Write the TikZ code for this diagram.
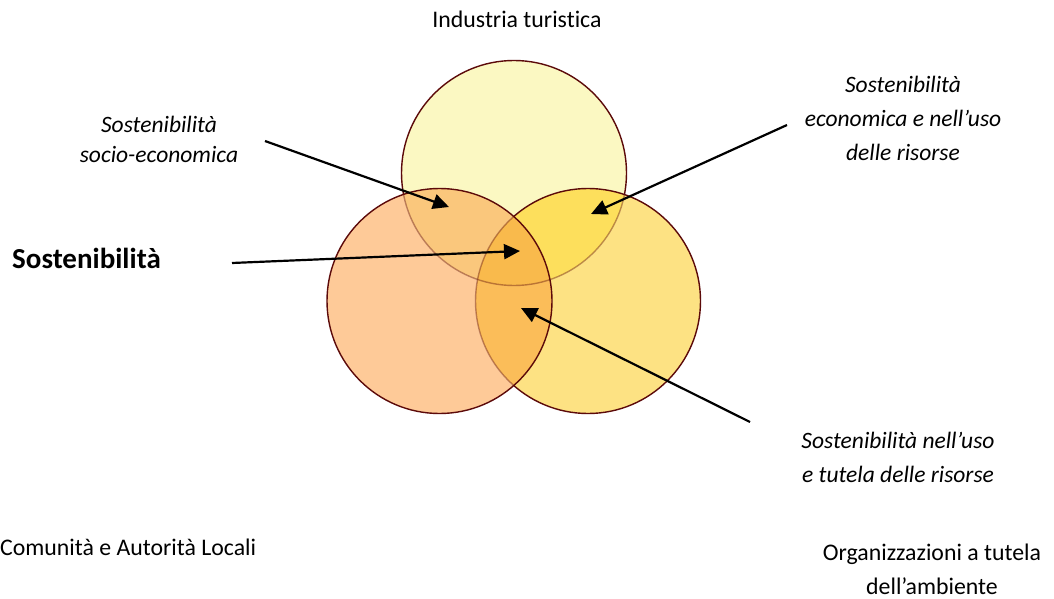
\documentclass[tikz,border=0pt]{standalone}
\usepackage{fontspec}
\setmainfont{Carlito}[Ligatures=NoCommon]
\usetikzlibrary{arrows.meta}
\definecolor{ring}{HTML}{5C0A0A}
\definecolor{cTop}{HTML}{FBF8C2}
\definecolor{cLeft}{HTML}{FECA98}
\definecolor{cRight}{HTML}{FDE283}
\definecolor{cTL}{HTML}{FAC77C}
\definecolor{cTR}{HTML}{FDDF5C}
\definecolor{cLR}{HTML}{FBBD59}
\definecolor{cAll}{HTML}{F9BA4C}
\tikzset{
  lbl/.style={font=\fontsize{23.8}{34}\selectfont, inner sep=0pt, align=center},
  ilbl/.style={font=\fontsize{23.5}{33.5}\selectfont\itshape, inner sep=0pt, align=center},
  blbl/.style={font=\fontsize{29}{35}\selectfont\bfseries, inner sep=0pt},
  ringline/.style={draw=ring, line width=1.4pt},
  faintline/.style={draw=ring, line width=1.4pt, draw opacity=0.4},
  pointer/.style={draw=black, line width=2.2pt, -{Triangle[length=16pt,width=15pt]}},
}
\begin{document}
\begin{tikzpicture}[x=1pt,y=-1pt]
\useasboundingbox (0,0) rectangle (1054,599);
\fill[white] (0,0) rectangle (1054,599);
\def\rad{112.5}
\coordinate (T) at (514,173);
\coordinate (R) at (588,301);
\coordinate (L) at (439.5,301);
% top circle
\fill[cTop] (T) circle (\rad);
\draw[ringline] (T) circle (\rad);
% right circle
\fill[cRight] (R) circle (\rad);
\begin{scope}
  \clip (R) circle (\rad);
  \fill[cTR] (T) circle (\rad);
  \draw[faintline] (T) circle (\rad);
\end{scope}
\draw[ringline] (R) circle (\rad);
% left circle
\fill[cLeft] (L) circle (\rad);
\begin{scope}
  \clip (L) circle (\rad);
  \fill[cTL] (T) circle (\rad);
  \fill[cLR] (R) circle (\rad);
  \begin{scope}
    \clip (R) circle (\rad);
    \fill[cAll] (T) circle (\rad);
  \end{scope}
  \draw[faintline] (T) circle (\rad);
  \draw[faintline] (R) circle (\rad);
\end{scope}
\draw[ringline] (L) circle (\rad);

% labels (multi-line nodes: base = baseline of last line)
\node[lbl, anchor=base] (ind) at (517,28) {Industria turistica};
\node[ilbl, anchor=base, font=\fontsize{23.5}{30}\selectfont\itshape] (se) at (159,162) {Sostenibilità\\socio-economica};
\node[blbl, anchor=base west] (sost) at (12,268) {Sostenibilità};
\node[ilbl, anchor=base] (eco) at (903,160) {Sostenibilità\\economica e nell’uso\\delle risorse};
\node[ilbl, anchor=base, font=\fontsize{23.5}{34}\selectfont\itshape] (tut) at (898,482) {Sostenibilità nell’uso\\e tutela delle risorse};
\node[lbl, anchor=base west] (com) at (0,555) {Comunità e Autorità Locali};
\node[lbl, anchor=base] (org) at (932,594) {Organizzazioni a tutela\\dell’ambiente};

% arrows
\coordinate (seS) at (265,141);
\coordinate (seT) at (449,207);
\coordinate (soS) at (232,263);
\coordinate (soT) at (520,251);
\coordinate (ecS) at (787,125);
\coordinate (ecT) at (591,214);
\coordinate (tuS) at (750,422);
\coordinate (tuT) at (521,308);
\draw[pointer] (seS) -- (seT);
\draw[pointer] (soS) -- (soT);
\draw[pointer] (ecS) -- (ecT);
\draw[pointer] (tuS) -- (tuT);
\end{tikzpicture}
\end{document}
